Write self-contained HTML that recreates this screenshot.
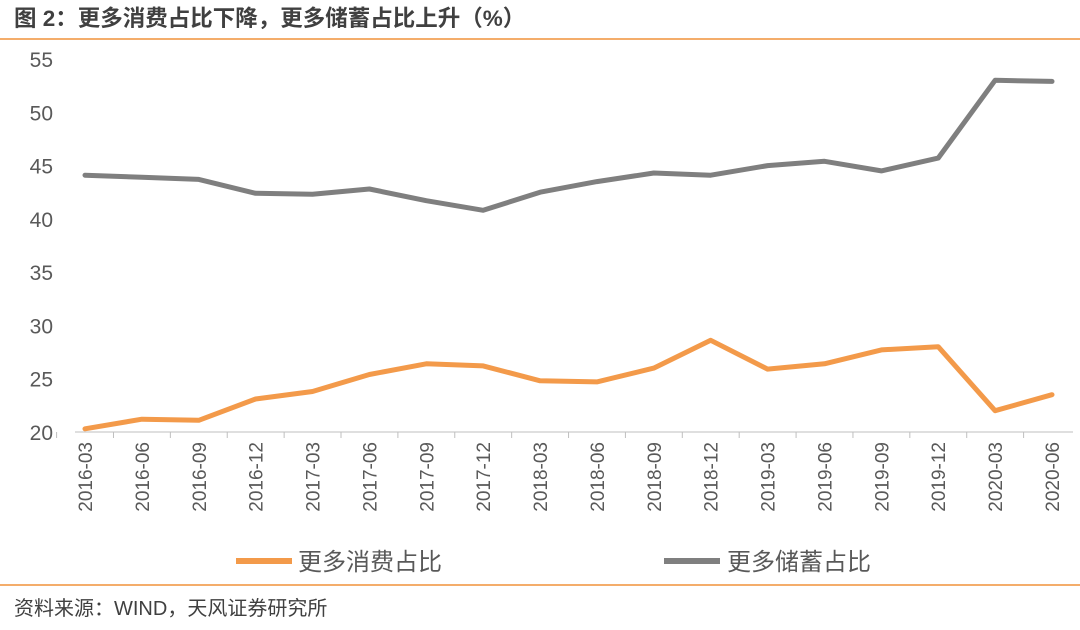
<!DOCTYPE html>
<html><head><meta charset="utf-8"><style>
body{margin:0;width:1080px;height:625px;background:#fff;overflow:hidden;font-family:"Liberation Sans","Noto Sans CJK SC",sans-serif}
</style></head><body>
<svg width="1080" height="625">
<text x="14" y="26" font-size="22.5" font-weight="bold" fill="#404040" font-family="Liberation Sans, Noto Sans CJK SC, sans-serif">图 2：更多消费占比下降，更多储蓄占比上升（%）</text>
<line x1="0" y1="39" x2="1080" y2="39" stroke="#f0923a" stroke-width="1.5"/>
<g id="yaxis"></g>
<g id="xaxis"></g>
<g id="series"></g>
<g>
<line x1="236" y1="561" x2="292" y2="561" stroke="#f39a4a" stroke-width="6"/>
<text x="298" y="570" font-size="24" fill="#595959" font-family="Liberation Sans, Noto Sans CJK SC, sans-serif">更多消费占比</text>
<line x1="664" y1="561" x2="720" y2="561" stroke="#7f7f7f" stroke-width="6"/>
<text x="727" y="570" font-size="24" fill="#595959" font-family="Liberation Sans, Noto Sans CJK SC, sans-serif">更多储蓄占比</text>
</g>
<line x1="0" y1="585" x2="1080" y2="585" stroke="#f0923a" stroke-width="1.5"/>
<text x="14" y="615" font-size="20" fill="#404040" font-family="Liberation Sans, Noto Sans CJK SC, sans-serif">资料来源：WIND，天风证券研究所</text>
</svg>
<script>
const categories=["2016-03","2016-06","2016-09","2016-12","2017-03","2017-06","2017-09","2017-12","2018-03","2018-06","2018-09","2018-12","2019-03","2019-06","2019-09","2019-12","2020-03","2020-06"];
const consumeValues=[20.3,21.2,21.1,23.1,23.8,25.4,26.4,26.2,24.8,24.7,26.0,28.6,25.9,26.4,27.7,28.0,22.0,23.5];
const saveValues=[44.1,43.9,43.7,42.4,42.3,42.8,41.7,40.8,42.5,43.5,44.3,44.1,45.0,45.4,44.5,45.7,53.0,52.9];
const yTicks=[20,25,30,35,40,45,50,55];
const NS="http://www.w3.org/2000/svg";
const y=v=>432-(v-20)*(432-59)/35;
const x=i=>85+i*(1052-85)/(categories.length-1);
function mk(tag,attrs,parent){const e=document.createElementNS(NS,tag);for(const k in attrs)e.setAttribute(k,attrs[k]);parent.appendChild(e);return e;}
const ya=document.getElementById('yaxis'),xa=document.getElementById('xaxis'),se=document.getElementById('series');
yTicks.forEach(t=>{const e=mk('text',{x:53,y:y(t)+8,'font-size':21,fill:'#595959','text-anchor':'end'},ya);e.textContent=t;

});
const ax=mk('line',{x1:75,y1:432,x2:1073,y2:432,stroke:'#bfbfbf','stroke-width':1},xa);


categories.forEach((c,i)=>{const tk=mk('line',{x1:x(i)-28.4,y1:432,x2:x(i)-28.4,y2:438,stroke:'#bfbfbf'},xa);


const t=mk('text',{x:0,y:0,'font-size':19,fill:'#595959','text-anchor':'end',transform:`translate(${x(i)+7},442) rotate(-90)`},xa);t.textContent=c;

});
const pts=a=>a.map((v,i)=>x(i).toFixed(1)+','+y(v).toFixed(1)).join(' ');
const l1=mk('polyline',{points:pts(saveValues),fill:'none',stroke:'#7f7f7f','stroke-width':5,'stroke-linejoin':'round','stroke-linecap':'round'},se);


const l2=mk('polyline',{points:pts(consumeValues),fill:'none',stroke:'#f39a4a','stroke-width':5,'stroke-linejoin':'round','stroke-linecap':'round'},se);


</script>
</body></html>
